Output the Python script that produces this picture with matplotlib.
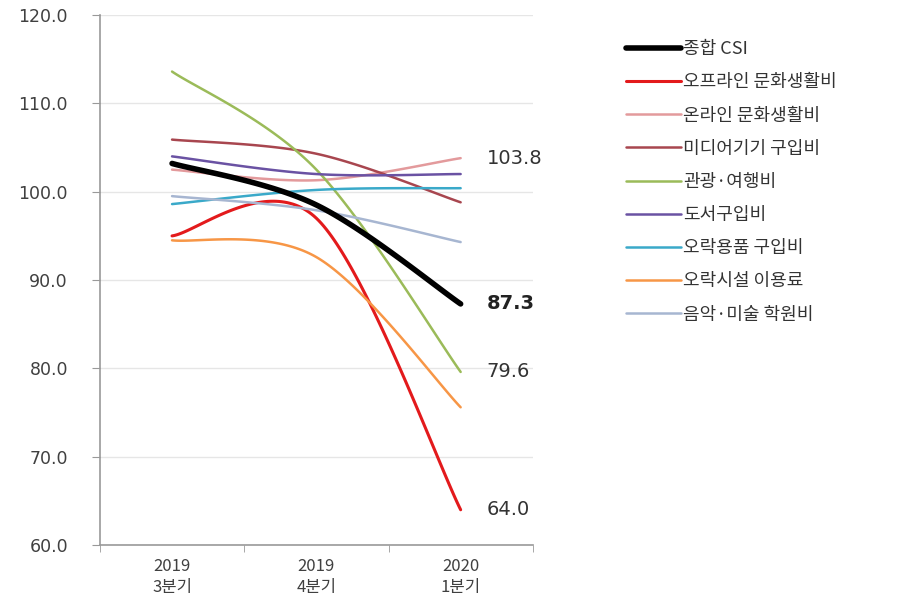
import numpy as np
import matplotlib.pyplot as plt

plt.rcParams['font.family'] = ['Noto Sans CJK KR', 'DejaVu Sans']

quarters = ["2019\n3분기", "2019\n4분기", "2020\n1분기"]
series_names = ["종합 CSI", "오프라인 문화생활비", "온라인 문화생활비", "미디어기기 구입비",
                "관광·여행비", "도서구입비", "오락용품 구입비", "오락시설 이용료", "음악·미술 학원비"]
csi_total = [103.2, 98.5, 87.3]
offline = [95.0, 97.0, 64.0]
online = [102.5, 101.3, 103.8]
media = [105.9, 104.3, 98.8]
travel = [113.6, 102.5, 79.6]
books = [104.0, 102.0, 102.0]
toys = [98.6, 100.2, 100.4]
leisure = [94.5, 92.6, 75.6]
academy = [99.5, 97.9, 94.3]
labelled = {"온라인 문화생활비": "103.8", "종합 CSI": "87.3",
            "관광·여행비": "79.6", "오프라인 문화생활비": "64.0"}

values = [csi_total, offline, online, media, travel, books, toys, leisure, academy]
colors = ['#000000', '#e31a1c', '#e39a9c', '#a8464f', '#9bbb59',
          '#6a52a3', '#3aa9c9', '#f79646', '#a7b6d1']
widths = [4.0, 2.2, 1.8, 1.8, 1.8, 1.8, 1.8, 1.8, 1.8]


def smooth(y, k=1/6, n=60):
    # excel-like smoothed line (catmull-rom bezier)
    x = np.arange(len(y), dtype=float)
    y = np.asarray(y, dtype=float)
    pts = np.column_stack([x, y])
    out = []
    for i in range(len(pts) - 1):
        p0 = pts[max(i - 1, 0)]
        p1 = pts[i]
        p2 = pts[i + 1]
        p3 = pts[min(i + 2, len(pts) - 1)]
        c1 = p1 + (p2 - p0) * k
        c2 = p2 - (p3 - p1) * k
        t = np.linspace(0, 1, n)[:, None]
        seg = ((1 - t) ** 3) * p1 + 3 * ((1 - t) ** 2) * t * c1 + 3 * (1 - t) * t ** 2 * c2 + t ** 3 * p2
        out.append(seg if i == 0 else seg[1:])
    out = np.vstack(out)
    return out[:, 0], out[:, 1]


fig = plt.figure(figsize=(9, 6.01), dpi=100)
ax = fig.add_axes([0.111, 0.093, 0.481, 0.882])

order = list(range(1, len(values))) + [0]
handles = {}
for i in order:
    xs, ys = smooth(values[i])
    ln, = ax.plot(xs, ys, color=colors[i], lw=widths[i], solid_capstyle='round',
                  zorder=3 if i == 0 else 2, label=series_names[i])
    handles[i] = ln
    if series_names[i] in labelled:
        ax.text(2.18, values[i][-1], labelled[series_names[i]], va='center', ha='left',
                fontsize=14, color='#222222' if i == 0 else '#333333',
                fontweight='bold' if i == 0 else 'normal', family='DejaVu Sans')

ax.set_xlim(-0.5, 2.5)
ax.set_ylim(60, 120)
ax.set_yticks(np.arange(60, 121, 10))
ax.set_yticklabels([f"{v:.1f}" for v in np.arange(60, 121, 10)],
                   family='DejaVu Sans', fontsize=12.5, color='#404040')
ax.set_xticks([0, 1, 2])
ax.set_xticklabels(quarters, fontsize=12, color='#404040', linespacing=1.3)
ax.set_xticks([-0.5, 0.5, 1.5, 2.5], minor=True)
ax.tick_params(axis='x', which='major', length=0, pad=9)
ax.tick_params(axis='x', which='minor', length=5, color='#999999', direction='out')
ax.tick_params(axis='y', length=6, color='#999999', direction='out', pad=17)
ax.grid(axis='y', color='#e6e6e6', lw=1)
ax.set_axisbelow(True)
for s in ['top', 'right']:
    ax.spines[s].set_visible(False)
for s in ['left', 'bottom']:
    ax.spines[s].set_color('#999999')
    ax.spines[s].set_linewidth(1.2)

leg = fig.legend([handles[i] for i in range(len(values))], series_names,
                 loc='upper left', bbox_to_anchor=(0.677, 0.96), frameon=False,
                 fontsize=13, handlelength=3.05, handletextpad=0.15, labelspacing=0.84)
for t in leg.get_texts():
    t.set_color('#333333')

fig.savefig("out.png", dpi=100)
